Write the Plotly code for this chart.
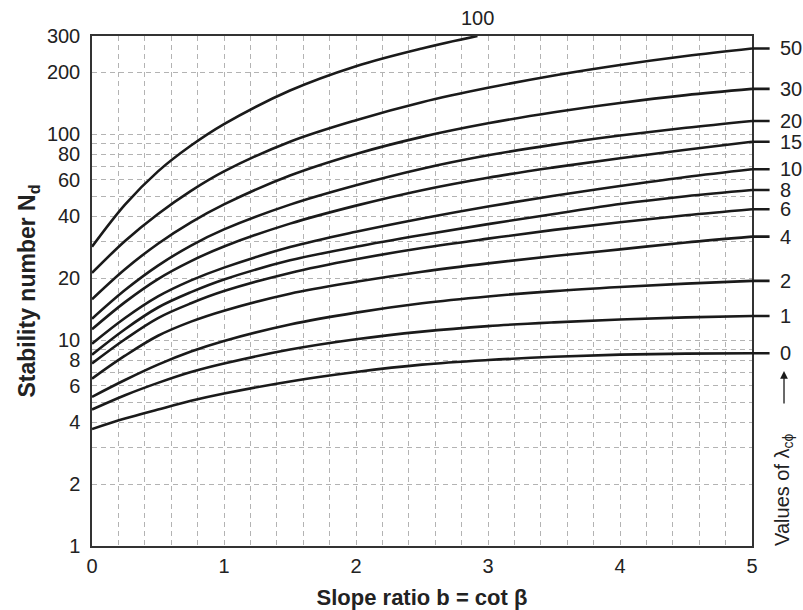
import math
import plotly.graph_objects as go

# ---- data ----
slope_x = [0, 0.25, 0.5, 0.75, 1, 1.5, 2, 2.5, 3, 3.5, 4, 4.5, 5]
lambda_labels = ["0", "1", "2", "4", "6", "8", "10", "15", "20", "30", "50"]
nd_lam0 = [3.7, 4.16, 4.6, 5.07, 5.5, 6.3, 7.0, 7.6, 8.0, 8.3, 8.5, 8.6, 8.63]
nd_lam1 = [4.6, 5.4, 6.2, 7.0, 7.7, 9.0, 10.1, 11.0, 11.7, 12.2, 12.6, 12.9, 13.1]
nd_lam2 = [5.3, 6.4, 7.6, 8.8, 9.9, 11.9, 13.6, 15.1, 16.3, 17.3, 18.1, 18.8, 19.4]
nd_lam4 = [6.5, 8.4, 10.5, 12.3, 13.9, 16.8, 19.2, 21.5, 23.6, 25.6, 27.6, 29.8, 31.8]
nd_lam6 = [7.7, 10.1, 12.8, 15.1, 17.3, 21.2, 24.7, 28.0, 31.1, 34.3, 37.4, 40.4, 43.2]
nd_lam8 = [8.5, 11.3, 14.4, 17.1, 19.7, 24.4, 28.4, 32.4, 36.6, 41.0, 45.8, 50.0, 53.6]
nd_lam10 = [9.6, 12.8, 16.3, 19.5, 22.5, 28.3, 33.6, 39.0, 44.6, 50.3, 56.0, 62.0, 67.6]
nd_lam15 = [11.3, 15.3, 19.8, 24.2, 28.5, 36.8, 45.0, 53.5, 61.5, 69.0, 76.5, 84.0, 92.0]
nd_lam20 = [12.7, 17.5, 23.0, 28.8, 34.5, 45.5, 56.5, 68.0, 79.0, 89.0, 98.5, 107.5, 116.0]
nd_lam30 = [15.8, 22.1, 29.4, 37.3, 45.6, 63.0, 80.2, 97.1, 113.0, 127.9, 141.9, 154.9, 166.0]
nd_lam50 = [21.2, 30.3, 41.0, 53.1, 66.0, 92.0, 117.0, 143.0, 168.0, 193.0, 217.0, 240.0, 261.0]
slope_x_lam100 = [0, 0.25, 0.5, 0.75, 1, 1.5, 2, 2.5, 2.92]
nd_lam100 = [28.4, 45.5, 66.0, 88.1, 112.0, 163.0, 214.0, 261.0, 300.0]

x_ticks = [0, 1, 2, 3, 4, 5]
y_ticks = [1, 2, 4, 6, 8, 10, 20, 40, 60, 80, 100, 200, 300]
y_minor_grid = [3, 5, 7, 9, 30, 50, 70, 90]

series = [nd_lam0, nd_lam1, nd_lam2, nd_lam4, nd_lam6, nd_lam8, nd_lam10,
          nd_lam15, nd_lam20, nd_lam30, nd_lam50]

FONT = "Liberation Sans, Arial, Helvetica, sans-serif"
LINE_COLOR = "#1a1a1a"
TEXT_COLOR = "#222"
GRID = "#b3b3b3"
FS = 20

fig = go.Figure()
for lab, vals in zip(lambda_labels, series):
    fig.add_trace(go.Scatter(x=slope_x, y=vals, mode="lines", name=lab,
                             line=dict(color=LINE_COLOR, width=2.6, shape="spline"),
                             showlegend=False, hoverinfo="skip"))
fig.add_trace(go.Scatter(x=slope_x_lam100, y=nd_lam100, mode="lines", name="100",
                         line=dict(color=LINE_COLOR, width=2.6, shape="spline"),
                         showlegend=False, hoverinfo="skip"))

annotations = []
# right-hand labels with leader lines (log axis: annotation y in log10 units)
for lab, vals in zip(lambda_labels, series):
    w = 0.556 * FS * len(lab)
    annotations.append(dict(
        x=slope_x[-1], y=math.log10(vals[-1]), xref="x", yref="y",
        text=lab, showarrow=True, arrowhead=0, arrowwidth=2.6, arrowcolor=LINE_COLOR,
        ax=28 + w / 2, ay=0, standoff=0, startstandoff=9,
        font=dict(family=FONT, size=FS, color=TEXT_COLOR)))
# label of the 100 curve at the top
annotations.append(dict(x=slope_x_lam100[-1], y=1.035, xref="x", yref="paper",
                        text="100", showarrow=False, yanchor="middle",
                        font=dict(family=FONT, size=FS, color=TEXT_COLOR)))
# upward arrow
annotations.append(dict(x=1.0485, y=0.343, xref="paper", yref="paper", text="",
                        showarrow=True, arrowhead=2, arrowsize=1.2, arrowwidth=1.3,
                        arrowcolor=LINE_COLOR, ax=0, ay=34, standoff=0))
# right vertical label
annotations.append(dict(x=1.0485, y=0.11, xref="paper", yref="paper",
                        text="Values of λ<sub>cϕ</sub>", textangle=-90, showarrow=False,
                        xanchor="center", yanchor="middle",
                        font=dict(family=FONT, size=FS, color=TEXT_COLOR)))

fig.update_layout(
    width=803, height=610,
    margin=dict(l=92, r=51, t=36, b=64),
    plot_bgcolor="white", paper_bgcolor="white",
    font=dict(family=FONT, size=FS, color=TEXT_COLOR),
    annotations=annotations,
    xaxis=dict(
        range=[0, 5], tickvals=x_ticks, ticktext=[str(v) for v in x_ticks],
        showgrid=True, gridcolor=GRID, griddash="5px,4px", gridwidth=1,
        minor=dict(dtick=0.2, tick0=0, showgrid=True, gridcolor=GRID,
                   griddash="5px,4px", gridwidth=1),
        showline=True, mirror=True, linecolor="#333", linewidth=1.5,
        ticks="", ticklabelstandoff=1, zeroline=False, automargin=False,
        tickfont=dict(family=FONT, size=FS, color=TEXT_COLOR),
        title=dict(text="<b>Slope ratio b = cot β</b>", standoff=14,
                   font=dict(family=FONT, size=22, color=TEXT_COLOR)),
    ),
    yaxis=dict(
        type="log", range=[0, math.log10(300)],
        tickvals=y_ticks, ticktext=[str(v) for v in y_ticks],
        showgrid=True, gridcolor=GRID, griddash="5px,4px", gridwidth=1,
        minor=dict(tickmode="array", tickvals=y_minor_grid, showgrid=True,
                   gridcolor=GRID, griddash="5px,4px", gridwidth=1),
        showline=True, mirror=True, linecolor="#333", linewidth=1.5,
        ticks="", ticklabelstandoff=6, zeroline=False, automargin=False,
        tickfont=dict(family=FONT, size=FS, color=TEXT_COLOR),
        title=dict(text="<b>Stability number N<sub>d</sub></b>", standoff=5,
                   font=dict(family=FONT, size=23, color=TEXT_COLOR)),
    ),
)

fig.write_html("out.html")
